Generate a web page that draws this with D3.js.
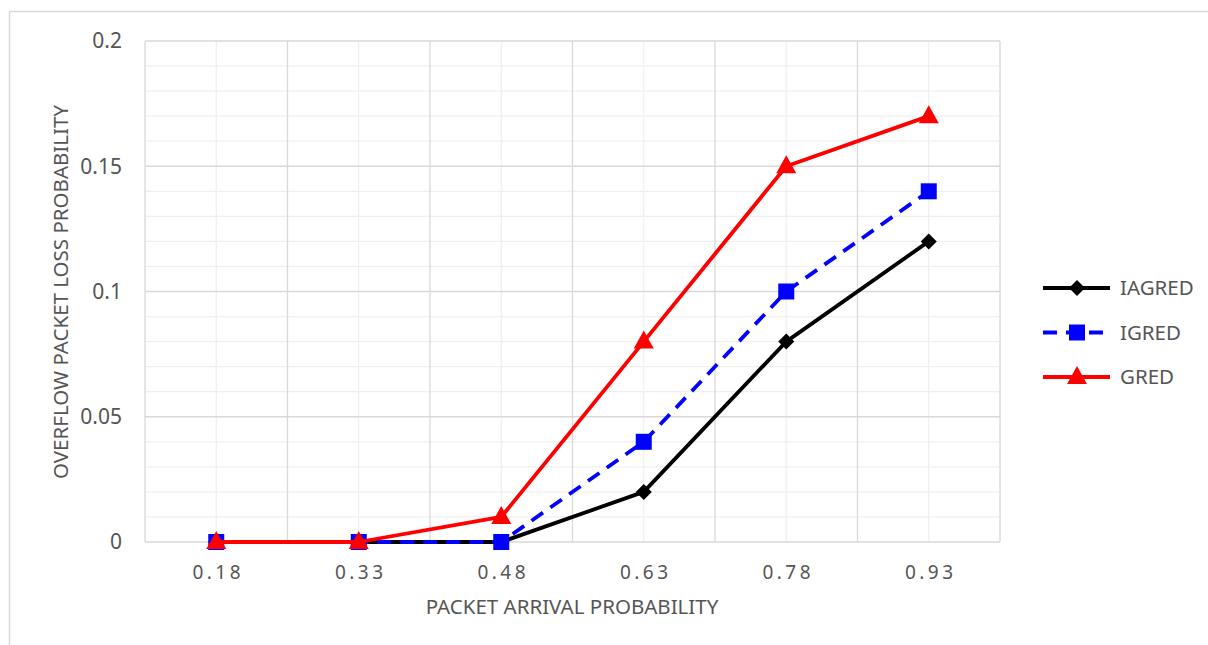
<!DOCTYPE html>
<html>
<head>
<meta charset="utf-8">
<script src="https://cdn.jsdelivr.net/npm/d3@7"></script>
<style>
  html, body { margin: 0; padding: 0; background: #fff; }
  svg { display: block; font-family: "Noto Sans", "Open Sans", sans-serif; }
</style>
</head>
<body>
<svg id="chart" width="1208" height="645"></svg>
<script>
// ---- data ----
const categories = ['0.18', '0.33', '0.48', '0.63', '0.78', '0.93'];
const iagred = [0, 0, 0, 0.02, 0.08, 0.12];
const igred  = [0, 0, 0, 0.04, 0.10, 0.14];
const gred   = [0, 0, 0.01, 0.08, 0.15, 0.17];
const yTicks = [0, 0.05, 0.1, 0.15, 0.2];
const yTickLabels = ['0', '0.05', '0.1', '0.15', '0.2'];

const series = [
  { name: 'IAGRED', values: iagred, color: '#000000', dash: null, marker: 'diamond' },
  { name: 'IGRED', values: igred, color: '#0000ff', dash: '14,9', marker: 'square' },
  { name: 'GRED', values: gred, color: '#ff0000', dash: null, marker: 'triangle' }
];

const svg = d3.select('#chart');
const textColor = '#555555';

// outer chart border
svg.append('rect')
  .attr('x', 9.5).attr('y', 11.5)
  .attr('width', 1230).attr('height', 660)
  .attr('fill', 'none').attr('stroke', '#d9d9d9').attr('stroke-width', 1.5);

const plot = { left: 145, right: 1000, top: 41, bottom: 542 };

const x = d3.scaleBand().domain(categories).range([plot.left, plot.right]);
const y = d3.scaleLinear().domain([0, 0.2]).range([plot.bottom, plot.top]);
const xc = c => x(c) + x.bandwidth() / 2;

const g = svg.append('g');

// minor horizontal gridlines (0.01)
g.selectAll('line.minor-h')
  .data(d3.range(1, 20).map(i => i / 100).filter(v => Math.round(v * 100) % 5 !== 0))
  .join('line')
  .attr('x1', plot.left).attr('x2', plot.right)
  .attr('y1', d => y(d)).attr('y2', d => y(d))
  .attr('stroke', '#efefef').attr('stroke-width', 1.2);

// minor vertical gridlines (category centers)
g.selectAll('line.minor-v')
  .data(categories)
  .join('line')
  .attr('x1', d => xc(d)).attr('x2', d => xc(d))
  .attr('y1', plot.top).attr('y2', plot.bottom)
  .attr('stroke', '#efefef').attr('stroke-width', 1.2);

// major horizontal gridlines
g.selectAll('line.major-h')
  .data(yTicks)
  .join('line')
  .attr('x1', plot.left).attr('x2', plot.right)
  .attr('y1', d => y(d)).attr('y2', d => y(d))
  .attr('stroke', '#d9d9d9').attr('stroke-width', 1.3);

// major vertical gridlines (category boundaries)
const bounds = categories.map(c => x(c)).concat([plot.right]);
g.selectAll('line.major-v')
  .data(bounds)
  .join('line')
  .attr('x1', d => d).attr('x2', d => d)
  .attr('y1', plot.top).attr('y2', plot.bottom)
  .attr('stroke', '#d9d9d9').attr('stroke-width', 1.3);

// y tick labels
g.selectAll('text.ytick')
  .data(yTicks)
  .join('text')
  .attr('x', 122).attr('y', d => y(d))
  .attr('dy', '0.35em')
  .attr('text-anchor', 'end')
  .attr('font-size', 21)
  .attr('fill', textColor)
  .text((d, i) => yTickLabels[i]);

// x tick labels
g.selectAll('text.xtick')
  .data(categories)
  .join('text')
  .attr('x', d => xc(d) + 2).attr('y', 579)
  .attr('text-anchor', 'middle')
  .attr('font-size', 19)
  .attr('letter-spacing', 3.5)
  .attr('fill', textColor)
  .text(d => d);

// axis titles
svg.append('text')
  .attr('x', 572).attr('y', 614)
  .attr('text-anchor', 'middle')
  .attr('font-size', 20.5)
  .attr('fill', textColor)
  .text('PACKET ARRIVAL PROBABILITY');

svg.append('text')
  .attr('transform', 'translate(68,292) rotate(-90)')
  .attr('text-anchor', 'middle')
  .attr('font-size', 20.5)
  .attr('fill', textColor)
  .text('OVERFLOW PACKET LOSS PROBABILITY');

// markers
function drawMarker(sel, type, color) {
  if (type === 'diamond') {
    sel.append('path').attr('d', 'M0,-8 L8,0 L0,8 L-8,0 Z').attr('fill', color);
  } else if (type === 'square') {
    sel.append('rect').attr('x', -8).attr('y', -8).attr('width', 16).attr('height', 16).attr('fill', color);
  } else {
    sel.append('path').attr('d', 'M0,-11 L10,7 L-10,7 Z').attr('fill', color);
  }
}

const line = d3.line().x((d, i) => xc(categories[i])).y(d => y(d));

series.forEach(s => {
  const sg = g.append('g');
  sg.append('path')
    .attr('d', line(s.values))
    .attr('fill', 'none')
    .attr('stroke', s.color)
    .attr('stroke-width', 3.8)
    .attr('stroke-dasharray', s.dash)
    .attr('stroke-linejoin', 'round');
  s.values.forEach((v, i) => {
    const m = sg.append('g').attr('transform', `translate(${xc(categories[i])},${y(v)})`);
    drawMarker(m, s.marker, s.color);
  });
});

// legend
const legend = svg.append('g');
series.forEach((s, i) => {
  const ly = 288 + i * 44.5;
  const lg = legend.append('g').attr('transform', `translate(0,${ly})`);
  lg.append('line')
    .attr('x1', 1043).attr('x2', 1110)
    .attr('stroke', s.color).attr('stroke-width', 3.8)
    .attr('stroke-dasharray', s.dash);
  const m = lg.append('g').attr('transform', 'translate(1077,0)');
  drawMarker(m, s.marker, s.color);
  lg.append('text')
    .attr('x', 1120).attr('dy', '0.35em')
    .attr('font-size', 20.5)
    .attr('fill', textColor)
    .text(s.name);
});
</script>
</body>
</html>
